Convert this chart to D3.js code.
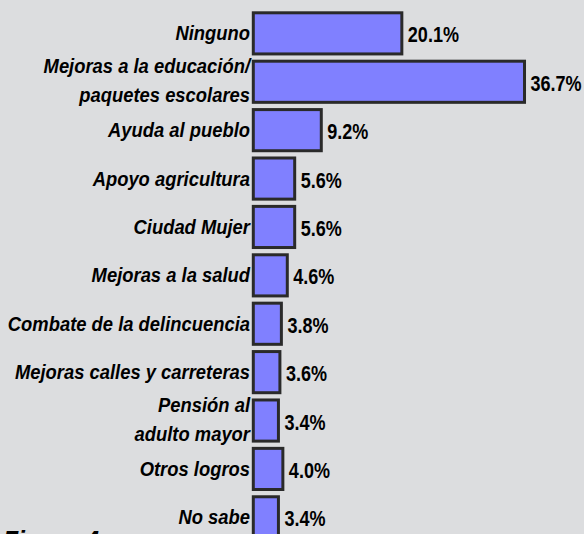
<!DOCTYPE html>
<html>
<head>
<meta charset="utf-8">
<script src="https://cdn.jsdelivr.net/npm/d3@7"></script>
<style>
  html, body { margin: 0; padding: 0; background: #dcdddf; overflow: hidden; }
  svg { display: block; }
  .lbl { font-family: "Liberation Sans", Arial, sans-serif; font-weight: bold; font-style: italic; }
  .val { font-family: "Liberation Sans", Arial, sans-serif; font-weight: bold; }
</style>
</head>
<body>
<svg id="chart"></svg>
<script>
// categorias (una linea por elemento)
var categories = [
  ["Ninguno"],
  ["Mejoras a la educación/", "paquetes escolares"],
  ["Ayuda al pueblo"],
  ["Apoyo agricultura"],
  ["Ciudad Mujer"],
  ["Mejoras a la salud"],
  ["Combate de la delincuencia"],
  ["Mejoras calles y carreteras"],
  ["Pensión al", "adulto mayor"],
  ["Otros logros"],
  ["No sabe"]
];
var values = [20.1, 36.7, 9.2, 5.6, 5.6, 4.6, 3.8, 3.6, 3.4, 4.0, 3.4];
var valueLabels = ["20.1%", "36.7%", "9.2%", "5.6%", "5.6%", "4.6%", "3.8%", "3.6%", "3.4%", "4.0%", "3.4%"];
var figTitle = "Figura 4";

var width = 584, height = 534;
var svg = d3.select("#chart").attr("width", width).attr("height", height);

var x = d3.scaleLinear().domain([0, 40]).range([253.3, 548.9]);
var y = d3.scaleBand()
  .domain(d3.range(values.length))
  .range([12.8, 537.9])
  .paddingInner(0.15)
  .paddingOuter(0);

// barras
svg.append("g").selectAll("rect")
  .data(values)
  .enter().append("rect")
  .attr("x", x(0))
  .attr("y", function(d, i) { return y(i); })
  .attr("width", function(d) { return x(d) - x(0); })
  .attr("height", y.bandwidth())
  .attr("fill", "#8080ff")
  .attr("stroke", "#2a2a2a")
  .attr("stroke-width", 3);

// valores (fuente estrecha simulada con scaleX)
svg.append("g").selectAll("text")
  .data(values)
  .enter().append("text")
  .attr("class", "val")
  .attr("transform", function(d, i) {
    return "translate(" + (x(d) + 6) + "," + (y(i) + y.bandwidth() / 2 + 9) + ") scale(0.82,1)";
  })
  .attr("font-size", 22)
  .attr("fill", "#000")
  .text(function(d, i) { return valueLabels[i]; });

// etiquetas
var lbl = svg.append("g").selectAll("text")
  .data(categories)
  .enter().append("text")
  .attr("class", "lbl")
  .attr("font-size", 20)
  .attr("fill", "#000")
  .attr("text-anchor", "end")
  .attr("transform", function(d, i) {
    var c = y(i) + y.bandwidth() / 2;
    return "translate(250," + (d.length > 1 ? c - 8.5 : c + 7) + ") scale(0.92,1)";
  });
lbl.selectAll("tspan")
  .data(function(d) { return d; })
  .enter().append("tspan")
  .attr("x", 0)
  .attr("dy", function(d, j) { return j ? 29 : 0; })
  .text(function(d) { return d; });

svg.append("text")
  .attr("class", "lbl")
  .attr("transform", "translate(3,549) scale(0.95,1)")
  .attr("font-size", 26)
  .attr("fill", "#000")
  .text(figTitle);
</script>
</body>
</html>
